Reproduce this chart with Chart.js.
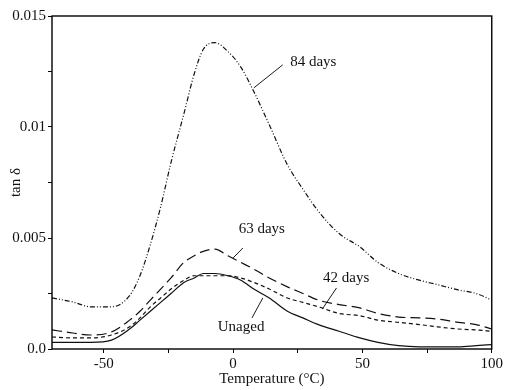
<!DOCTYPE html>
<html>
<head>
<meta charset="utf-8">
<script src="https://cdn.jsdelivr.net/npm/chart.js@4.4.1/dist/chart.umd.min.js"></script>
<style>
  html, body { margin: 0; padding: 0; background: #fff; }
  #wrap { width: 505px; height: 390px; }
</style>
</head>
<body>
<div id="wrap"><canvas id="tanDeltaChart" width="505" height="390"></canvas></div>
<script>
// ===== tan delta vs temperature for aged samples =====

// Temperature grid (°C)
const temperatures = [-70, -62, -55, -47, -40, -36, -32, -28, -24, -19, -15, -11.5, -7, -2, 3, 8, 14, 21, 27, 33, 41, 49, 56, 64, 72, 79, 87, 94, 100];

// tan delta per ageing time
const days84 = [0.0023, 0.00212, 0.0019, 0.0019, 0.0024, 0.0033, 0.0047, 0.0064, 0.0084, 0.0106, 0.0124, 0.0135, 0.0138, 0.0134, 0.0127, 0.0116, 0.0101, 0.0083, 0.0072, 0.0062, 0.0052, 0.0046, 0.0039, 0.0034, 0.0031, 0.0029, 0.00266, 0.0025, 0.0022];
const days63 = [0.00086, 0.00072, 0.00063, 0.00077, 0.0013, 0.0017, 0.0022, 0.0027, 0.0032, 0.0039, 0.0042, 0.0044, 0.0045, 0.0042, 0.0039, 0.0036, 0.0032, 0.0028, 0.0025, 0.0022, 0.002, 0.00185, 0.0016, 0.00144, 0.0014, 0.00135, 0.0012, 0.0011, 0.0009];
const days42 = [0.00054, 0.0005, 0.0005, 0.00063, 0.001, 0.0014, 0.0019, 0.0023, 0.0027, 0.0031, 0.0033, 0.0033, 0.0033, 0.0033, 0.0032, 0.003, 0.0027, 0.0023, 0.0021, 0.0019, 0.0016, 0.0015, 0.0013, 0.0012, 0.0011, 0.001, 0.0009, 0.00086, 0.0008];
const unaged = [0.0003, 0.0003, 0.0003, 0.0004, 0.0009, 0.0013, 0.0017, 0.0021, 0.0025, 0.003, 0.0032, 0.0034, 0.0034, 0.0033, 0.0031, 0.0027, 0.0023, 0.0017, 0.0014, 0.0011, 0.0008, 0.0005, 0.0003, 0.00015, 0.0001, 0.0001, 0.0001, 0.00015, 0.0002];

// Axis ticks
const xTicks = [-50, -25, 0, 25, 50, 75, 100];
const xTickLabels = { "-50": "-50", "0": "0", "50": "50", "100": "100" };
const yTicks = [0, 0.0025, 0.005, 0.0075, 0.01, 0.0125, 0.015];
const yTickLabels = { "0": "0.0", "0.005": "0.005", "0.01": "0.01", "0.015": "0.015" };

// Curve labels with leader lines: [text, labelX, labelY, fromX, fromY, toX, toY]
const curveLabels = [
  ["84 days", 31, 0.01293, 19.2, 0.0128, 8, 0.01176],
  ["63 days", 11.1, 0.0054, 3.8, 0.00455, 0, 0.0041],
  ["42 days", 43.7, 0.0032, 40, 0.00275, 34.5, 0.0018],
  ["Unaged", 3.1, 0.001, 7.3, 0.0014, 11.5, 0.0023]
];

const FONT = "Liberation Serif, Times New Roman, serif";

function toPoints(values) {
  return temperatures.map(function (t, i) {
    return { x: t, y: values[i] };
  });
}

function makeSeries(label, values, dash) {
  return {
    label: label,
    data: toPoints(values),
    borderColor: "#111",
    borderWidth: 1.2,
    borderDash: dash,
    pointRadius: 0,
    fill: false,
    showLine: true,
    cubicInterpolationMode: "monotone"
  };
}

// Box around the plot plus curve labels
const framePlugin = {
  id: "frameAndLabels",
  afterDatasetsDraw: function (chart) {
    const ctx = chart.ctx;
    const area = chart.chartArea;
    const xs = chart.scales.x;
    const ys = chart.scales.y;

    ctx.save();
    ctx.strokeStyle = "#000";
    ctx.lineWidth = 1.4;
    ctx.strokeRect(area.left, area.top, area.right - area.left, area.bottom - area.top);

    ctx.font = "15px " + FONT;
    ctx.fillStyle = "#111";
    ctx.textAlign = "center";
    ctx.textBaseline = "middle";
    ctx.lineWidth = 0.9;
    curveLabels.forEach(function (l) {
      ctx.fillText(l[0], xs.getPixelForValue(l[1]), ys.getPixelForValue(l[2]));
      ctx.beginPath();
      ctx.moveTo(xs.getPixelForValue(l[3]), ys.getPixelForValue(l[4]));
      ctx.lineTo(xs.getPixelForValue(l[5]), ys.getPixelForValue(l[6]));
      ctx.stroke();
    });
    ctx.restore();
  }
};

function initTanDeltaChart() {
  const el = document.getElementById("tanDeltaChart");

  const config = {
    type: "scatter",
    data: {
      datasets: [
        makeSeries("84 days", days84, [5, 2, 1, 2, 1, 2]),
        makeSeries("63 days", days63, [10, 5]),
        makeSeries("42 days", days42, [4, 3]),
        makeSeries("Unaged", unaged, [])
      ]
    },
    options: {
      responsive: false,
      animation: false,
      layout: { padding: { top: 16, right: 11, left: 0, bottom: 0 } },
      plugins: {
        legend: { display: false },
        tooltip: { enabled: false }
      },
      scales: {
        x: {
          type: "linear",
          min: -70,
          max: 100,
          afterBuildTicks: function (scale) {
            scale.ticks = xTicks.map(function (v) { return { value: v }; });
          },
          afterFit: function (scale) { scale.height = 41; },
          border: { display: false },
          grid: { drawOnChartArea: false, drawTicks: true, tickLength: 4, tickColor: "#000" },
          ticks: {
            color: "#111",
            padding: 2,
            maxRotation: 0,
            autoSkip: false,
            font: { family: FONT, size: 15 },
            callback: function (value) {
              const s = String(value);
              return xTickLabels[s] !== undefined ? xTickLabels[s] : "";
            }
          },
          title: {
            display: true,
            text: "Temperature (°C)",
            color: "#111",
            padding: { top: 0, bottom: 2 },
            font: { family: FONT, size: 15 }
          }
        },
        y: {
          type: "linear",
          min: 0,
          max: 0.015,
          afterBuildTicks: function (scale) {
            scale.ticks = yTicks.map(function (v) { return { value: v }; });
          },
          afterFit: function (scale) { scale.width = 52; },
          border: { display: false },
          grid: { drawOnChartArea: false, drawTicks: true, tickLength: 4, tickColor: "#000" },
          ticks: {
            color: "#111",
            padding: 2,
            autoSkip: false,
            font: { family: FONT, size: 15 },
            callback: function (value) {
              const s = String(value);
              return yTickLabels[s] !== undefined ? yTickLabels[s] : "";
            }
          },
          title: {
            display: true,
            text: "tan δ",
            color: "#111",
            padding: { top: 7, bottom: 0 },
            font: { family: FONT, size: 15 }
          }
        }
      }
    },
    plugins: [framePlugin]
  };

  new Chart(el, config);
}

document.addEventListener("DOMContentLoaded", initTanDeltaChart);
</script>
</body>
</html>
